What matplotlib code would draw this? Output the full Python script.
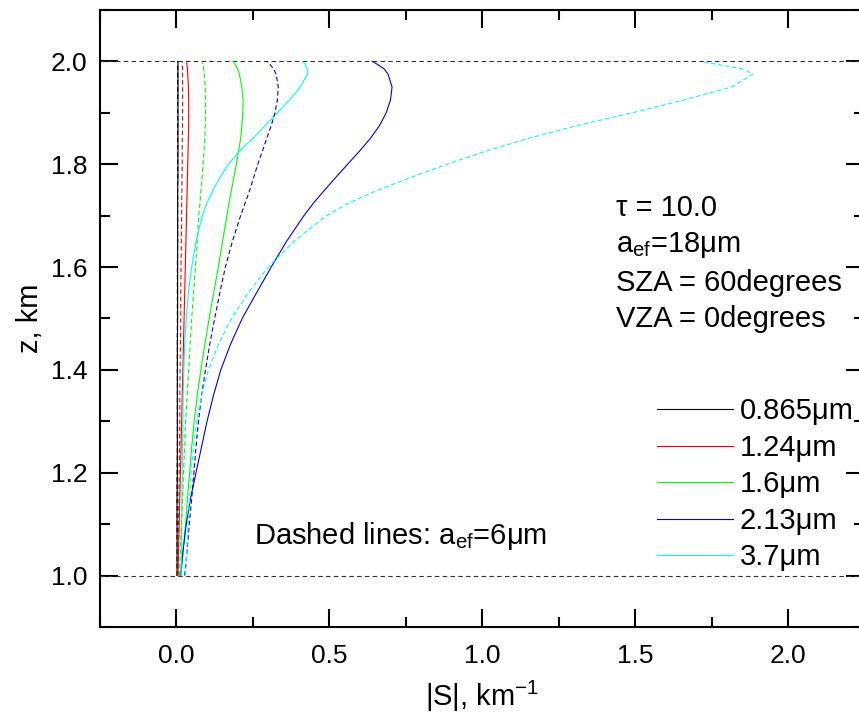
import matplotlib
matplotlib.use("Agg")
import matplotlib.pyplot as plt
from matplotlib.ticker import MultipleLocator

plt.rcParams['font.family'] = ['Liberation Sans', 'DejaVu Sans']
plt.rcParams['mathtext.fontset'] = 'custom'
plt.rcParams['mathtext.rm'] = 'Liberation Sans'
plt.rcParams['mathtext.it'] = 'Liberation Sans:italic'
plt.rcParams['mathtext.bf'] = 'Liberation Sans:bold'

# heights (km) at which the profiles were read
z = [1.0, 1.05, 1.1, 1.15, 1.2, 1.25, 1.3, 1.35, 1.4, 1.45, 1.5, 1.55, 1.6, 1.65, 1.7,
     1.725, 1.75, 1.775, 1.8, 1.825, 1.85, 1.875, 1.9, 1.925, 1.95, 1.975, 1.985, 1.995, 2.0]

wavelengths = ['0.865\u03bcm', '1.24\u03bcm', '1.6\u03bcm', '2.13\u03bcm', '3.7\u03bcm']
colors = ['black', '#ff0000', '#00ff00', '#0000ff', '#00ffff']

# |S| for a_ef = 18 um (solid lines)
s_18_0865 = [0.002, 0.002, 0.002, 0.002, 0.003, 0.003, 0.003, 0.003, 0.003, 0.003, 0.004, 0.004, 0.004, 0.004, 0.004,
             0.004, 0.004, 0.005, 0.005, 0.005, 0.005, 0.005, 0.005, 0.005, 0.005, 0.005, 0.005, 0.005, 0.005]
s_18_124 = [0.005, 0.007, 0.009, 0.011, 0.013, 0.015, 0.017, 0.019, 0.021, 0.023, 0.025, 0.027, 0.029, 0.031, 0.033,
            0.034, 0.035, 0.036, 0.037, 0.038, 0.039, 0.040, 0.040, 0.040, 0.039, 0.037, 0.036, 0.034, 0.033]
s_18_16 = [0.015, 0.022, 0.030, 0.036, 0.043, 0.050, 0.058, 0.068, 0.080, 0.093, 0.107, 0.122, 0.137, 0.151, 0.165,
           0.172, 0.180, 0.188, 0.196, 0.203, 0.210, 0.214, 0.217, 0.218, 0.214, 0.206, 0.200, 0.191, 0.186]
s_18_213 = [0.013, 0.022, 0.032, 0.046, 0.064, 0.082, 0.100, 0.121, 0.145, 0.177, 0.215, 0.262, 0.310, 0.360, 0.417,
            0.449, 0.485, 0.522, 0.560, 0.598, 0.634, 0.664, 0.686, 0.700, 0.705, 0.692, 0.680, 0.655, 0.640]
s_18_37 = [0.015, 0.016, 0.017, 0.018, 0.019, 0.020, 0.021, 0.022, 0.024, 0.027, 0.032, 0.039, 0.050, 0.064, 0.085,
           0.100, 0.120, 0.143, 0.170, 0.205, 0.250, 0.290, 0.330, 0.370, 0.405, 0.428, 0.428, 0.420, 0.412]

# |S| for a_ef = 6 um (dashed lines)
s_6_0865 = [0.002, 0.002, 0.002, 0.002, 0.002, 0.003, 0.003, 0.003, 0.003, 0.003, 0.003, 0.003, 0.003, 0.004, 0.004,
            0.004, 0.004, 0.004, 0.004, 0.004, 0.004, 0.004, 0.004, 0.004, 0.004, 0.004, 0.004, 0.004, 0.004]
s_6_124 = [0.005, 0.006, 0.007, 0.008, 0.009, 0.010, 0.011, 0.011, 0.012, 0.013, 0.014, 0.014, 0.015, 0.016, 0.017,
           0.017, 0.018, 0.018, 0.019, 0.019, 0.019, 0.020, 0.020, 0.020, 0.020, 0.020, 0.020, 0.019, 0.019]
s_6_16 = [0.010, 0.013, 0.016, 0.020, 0.023, 0.027, 0.030, 0.035, 0.040, 0.045, 0.050, 0.056, 0.062, 0.068, 0.073,
          0.077, 0.080, 0.084, 0.087, 0.090, 0.093, 0.094, 0.095, 0.095, 0.094, 0.091, 0.089, 0.086, 0.084]
s_6_213 = [0.027, 0.035, 0.042, 0.050, 0.057, 0.064, 0.072, 0.082, 0.095, 0.109, 0.125, 0.142, 0.160, 0.183, 0.210,
           0.225, 0.240, 0.253, 0.266, 0.281, 0.295, 0.310, 0.322, 0.330, 0.333, 0.326, 0.318, 0.305, 0.296]
s_6_37 = [0.030, 0.034, 0.038, 0.043, 0.048, 0.056, 0.066, 0.082, 0.105, 0.138, 0.180, 0.235, 0.300, 0.385, 0.490,
          0.565, 0.660, 0.770, 0.885, 1.010, 1.150, 1.310, 1.490, 1.660, 1.815, 1.885, 1.855, 1.760, 1.715]

solid = [s_18_0865, s_18_124, s_18_16, s_18_213, s_18_37]
dashed = [s_6_0865, s_6_124, s_6_16, s_6_213, s_6_37]

fig = plt.figure(figsize=(8.59, 7.2), dpi=100)
ax = fig.add_axes([0.1164, 0.1292, 0.890, 0.857])

# cloud boundaries
ax.axhline(1.0, color='#333333', lw=0.8, ls=(0, (4, 3)))
ax.axhline(2.0, color='#333333', lw=0.8, ls=(0, (4, 3)))

for s, c, lab in zip(solid, colors, wavelengths):
    ax.plot(s, z, color=c, lw=0.8, label=lab)
for s, c in zip(dashed, colors):
    ax.plot(s, z, color=c, lw=0.8, ls=(0, (4, 2.5)))

ax.set_xlim(-0.25, 2.25)
ax.set_ylim(0.9, 2.1)
ax.xaxis.set_major_locator(MultipleLocator(0.5))
ax.xaxis.set_minor_locator(MultipleLocator(0.25))
ax.yaxis.set_major_locator(MultipleLocator(0.2))
ax.yaxis.set_minor_locator(MultipleLocator(0.1))
ax.xaxis.set_major_formatter(plt.FormatStrFormatter('%.1f'))
ax.yaxis.set_major_formatter(plt.FormatStrFormatter('%.1f'))

ax.tick_params(which='both', direction='in', top=True, right=True, width=1.5, labelsize=19)
ax.tick_params(which='major', length=13)
ax.tick_params(which='minor', length=7)
ax.tick_params(axis='y', pad=9)
ax.tick_params(axis='x', pad=12)
for sp in ax.spines.values():
    sp.set_linewidth(1.5)

ax.set_xlabel('|S|, km$^{-1}$', fontsize=21, labelpad=8)
ax.set_ylabel('z, km', fontsize=21, labelpad=5)

ax.text(1.438, 1.699, '\u03c4 = 10.0', fontsize=21, va='baseline')
ax.text(1.438, 1.629, 'a$_{\\rm ef}$=18\u03bcm', fontsize=21, va='baseline')
ax.text(1.438, 1.553, 'SZA = 60degrees', fontsize=21, va='baseline')
ax.text(1.438, 1.483, 'VZA = 0degrees', fontsize=21, va='baseline')
ax.text(0.252, 1.062, 'Dashed lines: a$_{\\rm ef}$=6\u03bcm', fontsize=21, va='baseline')

ax.legend(loc='upper left', bbox_to_anchor=(0.7648, 0.448), bbox_transform=fig.transFigure,
          frameon=False, fontsize=21, handlelength=2.6, handletextpad=0.24,
          labelspacing=0.29, borderpad=0, borderaxespad=0)

fig.savefig('out.png', dpi=100)
